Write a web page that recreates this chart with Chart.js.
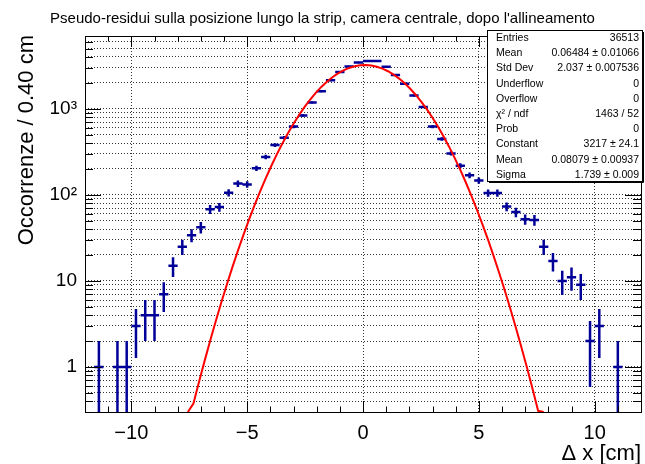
<!DOCTYPE html>
<html>
<head>
<meta charset="utf-8">
<script src="https://cdn.jsdelivr.net/npm/chart.js@4.4.1/dist/chart.umd.min.js"></script>
<style>
html,body{margin:0;padding:0;background:#fff;}
#wrap{width:645px;height:464px;position:relative;}
canvas{display:block;}
</style>
</head>
<body>
<div id="wrap"><canvas id="c" width="645" height="464"></canvas></div>
<script>
// ---------- data ----------
const binWidth = 0.4;
const binCenters = [-11.8,-11.4,-11.0,-10.6,-10.2,-9.8,-9.4,-9.0,-8.6,-8.2,
  -7.8,-7.4,-7.0,-6.6,-6.2,-5.8,-5.4,-5.0,-4.6,-4.2,
  -3.8,-3.4,-3.0,-2.6,-2.2,-1.8,-1.4,-1.0,-0.6,-0.2,
  0.2,0.6,1.0,1.4,1.8,2.2,2.6,3.0,3.4,3.8,
  4.2,4.6,5.0,5.4,5.8,6.2,6.6,7.0,7.4,7.8,
  8.2,8.6,9.0,9.4,9.8,10.2,10.6,11.0,11.4,11.8];
const counts = [0,1,0,1,1,3,4,4,7,15,
  25,34,42,68,72,106,135,132,203,275,
  379,461,620,835,1182,1592,2138,2669,3095,3445,
  3580,3590,3068,2461,1955,1425,1050,620,445,303,
  218,169,147,105,105,73,63,52,51,25,
  17,10,11,9,2,3,0,1,0,0];

// Gaussian fit curve (Constant 3217, Mean 0.08079, Sigma 1.739), sampled as drawn
const fitX = [-7.56,-7.32,-7.08,-6.84,-6.60,-6.36,-6.12,-5.88,-5.64,-5.40,
  -5.16,-4.92,-4.68,-4.44,-4.20,-3.96,-3.72,-3.48,-3.24,-3.00,
  -2.76,-2.52,-2.28,-2.04,-1.80,-1.56,-1.32,-1.08,-0.84,-0.60,
  -0.36,-0.12,0.12,0.36,0.60,0.84,1.08,1.32,1.56,1.80,
  2.04,2.28,2.52,2.76,3.00,3.24,3.48,3.72,3.96,4.20,
  4.44,4.68,4.92,5.16,5.40,5.64,5.88,6.12,6.36,6.60,
  6.84,7.08,7.32,7.56,7.80];
const fitY = [0.3,0.3754,0.669,1.170,2.007,3.378,5.578,9.038,14.37,22.41,
  34.30,51.49,75.86,109.6,155.4,216.3,295.2,395.4,519.5,669.7,
  847.2,1051,1280,1529,1792,2061,2326,2575,2796,2980,
  3115,3196,3216,3176,3077,2925,2727,2496,2240,1973,
  1705,1446,1203,981.8,786.3,617.8,476.2,360.2,267.2,194.6,
  139.0,97.4,66.99,45.19,29.90,19.42,12.37,7.74,4.745,2.856,
  1.686,0.977,0.555,0.3096,0.3];

const xTickValues = [-10,-5,0,5,10];
const yLabelValues = [1,10,100,1000];
const yLabelTexts = ['1','10','10\u00B2','10\u00B3'];
const yGridValues = [0.3,0.4,0.5,0.6,0.7,0.8,0.9,
  1,2,3,4,5,6,7,8,9,
  10,20,30,40,50,60,70,80,90,
  100,200,300,400,500,600,700,800,900,
  1000,2000,3000,4000,5000,6000,7000];

const titleText = "Pseudo-residui sulla posizione lungo la strip, camera centrale, dopo l'allineamento";
const xTitle = '\u0394 x [cm]';
const yTitle = 'Occorrenze / 0.40 cm';
const statsLabels = ['Entries','Mean','Std Dev','Underflow','Overflow','\u03C7\u00B2 / ndf','Prob','Constant','Mean','Sigma'];
const statsValues = ['36513','0.06484 \u00B1 0.01066','2.037 \u00B1 0.007536','0','0','1463 / 52','0','3217 \u00B1 24.1','0.08079 \u00B1 0.00937','1.739 \u00B1 0.009'];

// ---------- build library data ----------
const FONT = '"Liberation Sans", Arial, Helvetica, sans-serif';
const hData = [], vData = [];
binCenters.forEach((c, i) => {
  const n = counts[i];
  if (n <= 0) return;
  hData.push({x: c - binWidth / 2, y: n}, {x: c + binWidth / 2, y: n}, {x: c, y: null});
  const e = Math.sqrt(n);
  vData.push({x: c, y: Math.max(n - e, 1e-3)}, {x: c, y: n + e}, {x: c, y: null});
});
const fitData = fitX.map((x, i) => ({x: x, y: fitY[i]}));

const markColor = '#000099';

const rootPlugin = {
  id: 'rootDecor',
  afterDatasetsDraw(chart) {
    const ctx = chart.ctx;
    const {left, right, top, bottom} = chart.chartArea;
    const xs = chart.scales.x, ys = chart.scales.y;
    ctx.save();
    ctx.strokeStyle = '#000';
    ctx.lineWidth = 1;
    ctx.beginPath();
    for (let v = -12; v <= 12; v++) {
      const px = Math.round(xs.getPixelForValue(v)) + 0.5;
      const len = (v % 5 === 0) ? 11 : 5.5;
      ctx.moveTo(px, bottom); ctx.lineTo(px, bottom - len);
      ctx.moveTo(px, top); ctx.lineTo(px, top + len);
    }
    yGridValues.forEach(v => {
      const py = Math.round(ys.getPixelForValue(v)) + 0.5;
      const len = yLabelValues.includes(v) ? 16 : 8;
      ctx.moveTo(left, py); ctx.lineTo(left + len, py);
      ctx.moveTo(right, py); ctx.lineTo(right - len, py);
    });
    ctx.stroke();
    ctx.strokeRect(Math.round(left) + 0.5, Math.round(top) + 0.5, Math.round(right - left), Math.round(bottom - top));
    ctx.restore();
  },
  afterDraw(chart) {
    const ctx = chart.ctx;
    const {right, top} = chart.chartArea;
    ctx.save();
    ctx.fillStyle = '#000';
    // title
    ctx.font = '15px ' + FONT;
    ctx.textAlign = 'center';
    ctx.textBaseline = 'alphabetic';
    ctx.fillText(titleText, 322.5, 23);
    // x title
    ctx.font = '22px ' + FONT;
    ctx.textAlign = 'right';
    ctx.fillText(xTitle, right, 460);
    // y title
    ctx.save();
    ctx.translate(33, top - 1);
    ctx.rotate(-Math.PI / 2);
    ctx.textAlign = 'right';
    ctx.fillText(yTitle, 0, 0);
    ctx.restore();
    // stats box
    const bx = 487, by = 30, bw = 156, bh = 152;
    ctx.fillStyle = '#fff';
    ctx.fillRect(bx, by, bw, bh);
    ctx.strokeStyle = '#000';
    ctx.lineWidth = 1;
    ctx.strokeRect(bx + 0.5, by + 0.5, bw - 1, bh - 1);
    ctx.beginPath();
    ctx.moveTo(bx + bw + 0.5, by + 2); ctx.lineTo(bx + bw + 0.5, by + bh + 0.5); ctx.lineTo(bx + 2, by + bh + 0.5);
    ctx.stroke();
    ctx.fillStyle = '#000';
    ctx.font = '10.5px ' + FONT;
    ctx.textBaseline = 'middle';
    const rh = bh / statsLabels.length;
    statsLabels.forEach((lab, i) => {
      const cy = by + rh * (i + 0.5) + 0.5;
      ctx.textAlign = 'left';
      ctx.fillText(lab, bx + 9, cy);
      ctx.textAlign = 'right';
      ctx.fillText(statsValues[i], bx + bw - 4, cy);
    });
    ctx.restore();
  }
};

new Chart(document.getElementById('c'), {
  type: 'line',
  data: {
    datasets: [
      {label: 'fit', data: fitData, borderColor: '#ff0000', borderWidth: 2, pointRadius: 0, tension: 0, fill: false, clip: 0},
      {label: 'hbars', data: hData, borderColor: markColor, borderWidth: 2.5, pointRadius: 0, spanGaps: false, tension: 0, fill: false, clip: 0, borderCapStyle: 'butt'},
      {label: 'vbars', data: vData, borderColor: markColor, borderWidth: 2.5, pointRadius: 0, spanGaps: false, tension: 0, fill: false, clip: 0, borderCapStyle: 'butt'}
    ]
  },
  options: {
    responsive: false,
    animation: false,
    devicePixelRatio: 1,
    events: [],
    layout: {padding: {top: 36, right: 4, left: 0, bottom: 0}},
    plugins: {legend: {display: false}, tooltip: {enabled: false}, title: {display: false}},
    scales: {
      x: {
        type: 'linear', min: -12, max: 12,
        afterBuildTicks: s => { s.ticks = xTickValues.map(v => ({value: v})); },
        afterFit: s => { s.height = 52; },
        ticks: {
          font: {family: FONT, size: 20}, color: '#000', padding: 9, maxRotation: 0, autoSkip: false,
          callback: v => (v < 0 ? '\u2212' + Math.abs(v) : String(v))
        },
        grid: {display: true, color: '#333', lineWidth: 1, drawTicks: false},
        border: {display: false, dash: [1, 2]}
      },
      y: {
        type: 'logarithmic', min: 0.3, max: 7000,
        afterBuildTicks: s => { s.ticks = yGridValues.map(v => ({value: v})); },
        afterFit: s => { s.width = 85; },
        ticks: {
          font: {family: FONT, size: 19}, color: '#000', padding: 8, autoSkip: false,
          callback: v => { const k = yLabelValues.indexOf(v); return k >= 0 ? yLabelTexts[k] : ''; }
        },
        grid: {display: true, color: '#333', lineWidth: 1, drawTicks: false},
        border: {display: false, dash: [1, 2]}
      }
    }
  },
  plugins: [rootPlugin]
});
</script>
</body>
</html>
